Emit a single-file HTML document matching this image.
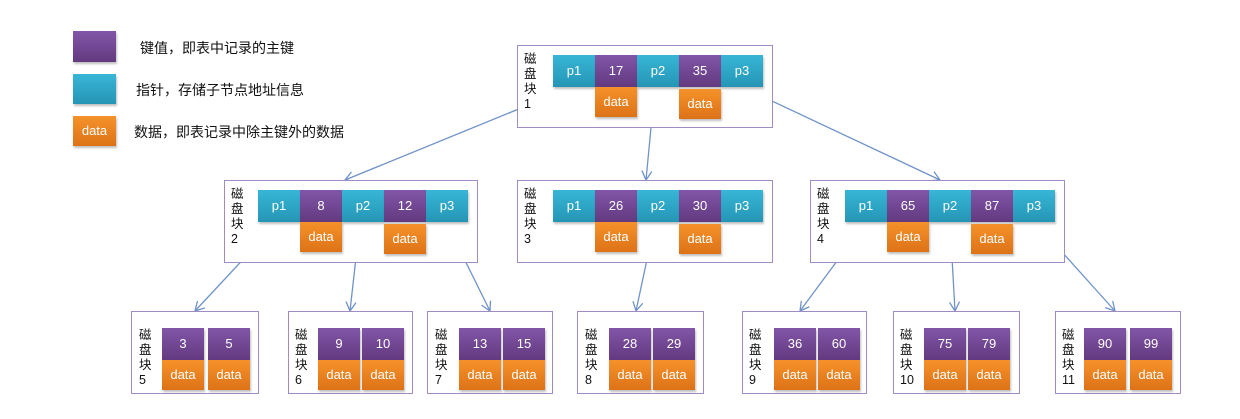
<!DOCTYPE html>
<html><head><meta charset="utf-8"><style>
body{margin:0;width:1240px;height:419px;background:#fff;position:relative;overflow:hidden;font-family:"Liberation Sans","Noto Sans CJK SC",sans-serif}
div{position:absolute;box-sizing:border-box}
.b{border:1.5px solid #a08cc4;background:#fff}
.c{width:42px;height:32px;color:#fff;font-size:13px;text-align:center;line-height:32px;box-shadow:1px 2px 2px rgba(0,0,0,.25)}
.t{background:linear-gradient(#38b6d6,#2595b5)}
.k{background:linear-gradient(#8156a8,#63397f)}
.d{background:linear-gradient(#f5922a,#dd7217);height:30px;line-height:30px}
.l{font-size:12.5px;line-height:15px;width:14px;color:#111;font-family:"Liberation Sans","Noto Sans CJK SC",sans-serif}
.g{font-size:14px;color:#111;font-family:"Liberation Sans","Noto Sans CJK SC",sans-serif}
</style></head><body>
<!-- legend -->
<div class="c k" style="left:73px;top:31px;width:43px;height:31px"></div>
<div class="c t" style="left:73px;top:74px;width:43px;height:30px"></div>
<div class="c d" style="left:73px;top:116px;width:43px;height:30px">data</div>
<div class="g" style="left:140px;top:38px">键值，即表中记录的主键</div>
<div class="g" style="left:136px;top:80px">指针，存储子节点地址信息</div>
<div class="g" style="left:134px;top:122px">数据，即表记录中除主键外的数据</div>

<svg width="1240" height="419" style="position:absolute;left:0;top:0">
<defs><marker id="a" markerWidth="12" markerHeight="12" refX="10" refY="6" orient="auto" markerUnits="userSpaceOnUse"><path d="M1,1 L10,6 L1,11" fill="none" stroke="#6f93c9" stroke-width="1.3"/></marker></defs>
<g stroke="#6f93c9" stroke-width="1.3" fill="none" marker-end="url(#a)">
<line x1="575" y1="86" x2="345" y2="180"/>
<line x1="655" y1="86" x2="646" y2="180"/>
<line x1="740" y1="86" x2="940" y2="180"/>
<line x1="278" y1="222" x2="195" y2="311"/>
<line x1="360" y1="222" x2="350" y2="311"/>
<line x1="446" y1="222" x2="490" y2="311"/>
<line x1="655" y1="222" x2="636" y2="311"/>
<line x1="866" y1="222" x2="800" y2="311"/>
<line x1="950" y1="222" x2="955" y2="311"/>
<line x1="1035" y1="222" x2="1115" y2="311"/>
</g></svg>

<!-- block 1 -->
<div class="b" style="left:517px;top:45px;width:256px;height:83px"></div>
<div class="l" style="left:524px;top:52px">磁盘块1</div>
<div class="c t" style="left:553px;top:55px">p1</div><div class="c k" style="left:595px;top:55px">17</div><div class="c t" style="left:637px;top:55px">p2</div><div class="c k" style="left:679px;top:55px">35</div><div class="c t" style="left:721px;top:55px">p3</div>
<div class="c d" style="left:595px;top:87px">data</div><div class="c d" style="left:679px;top:89px">data</div>

<!-- block 2 -->
<div class="b" style="left:224px;top:180px;width:254px;height:83px"></div>
<div class="l" style="left:231px;top:187px">磁盘块2</div>
<div class="c t" style="left:258px;top:190px">p1</div><div class="c k" style="left:300px;top:190px">8</div><div class="c t" style="left:342px;top:190px">p2</div><div class="c k" style="left:384px;top:190px">12</div><div class="c t" style="left:426px;top:190px">p3</div>
<div class="c d" style="left:300px;top:222px">data</div><div class="c d" style="left:384px;top:224px">data</div>

<!-- block 3 -->
<div class="b" style="left:517px;top:180px;width:256px;height:83px"></div>
<div class="l" style="left:524px;top:187px">磁盘块3</div>
<div class="c t" style="left:553px;top:190px">p1</div><div class="c k" style="left:595px;top:190px">26</div><div class="c t" style="left:637px;top:190px">p2</div><div class="c k" style="left:679px;top:190px">30</div><div class="c t" style="left:721px;top:190px">p3</div>
<div class="c d" style="left:595px;top:222px">data</div><div class="c d" style="left:679px;top:224px">data</div>

<!-- block 4 -->
<div class="b" style="left:810px;top:180px;width:255px;height:83px"></div>
<div class="l" style="left:817px;top:187px">磁盘块4</div>
<div class="c t" style="left:845px;top:190px">p1</div><div class="c k" style="left:887px;top:190px">65</div><div class="c t" style="left:929px;top:190px">p2</div><div class="c k" style="left:971px;top:190px">87</div><div class="c t" style="left:1013px;top:190px">p3</div>
<div class="c d" style="left:887px;top:222px">data</div><div class="c d" style="left:971px;top:224px">data</div>

<!-- leaves -->
<div class="b" style="left:131px;top:311px;width:128px;height:83px"></div>
<div class="l" style="left:139px;top:328px">磁盘块5</div>
<div class="c k" style="left:162px;top:328px">3</div><div class="c k" style="left:208px;top:328px">5</div>
<div class="c d" style="left:162px;top:360px">data</div><div class="c d" style="left:208px;top:360px">data</div>

<div class="b" style="left:288px;top:311px;width:125px;height:83px"></div>
<div class="l" style="left:295px;top:328px">磁盘块6</div>
<div class="c k" style="left:318px;top:328px">9</div><div class="c k" style="left:362px;top:328px">10</div>
<div class="c d" style="left:318px;top:360px">data</div><div class="c d" style="left:362px;top:360px">data</div>

<div class="b" style="left:427px;top:311px;width:126px;height:83px"></div>
<div class="l" style="left:435px;top:328px">磁盘块7</div>
<div class="c k" style="left:459px;top:328px">13</div><div class="c k" style="left:503px;top:328px">15</div>
<div class="c d" style="left:459px;top:360px">data</div><div class="c d" style="left:503px;top:360px">data</div>

<div class="b" style="left:577px;top:311px;width:127px;height:83px"></div>
<div class="l" style="left:585px;top:328px">磁盘块8</div>
<div class="c k" style="left:609px;top:328px">28</div><div class="c k" style="left:653px;top:328px">29</div>
<div class="c d" style="left:609px;top:360px">data</div><div class="c d" style="left:653px;top:360px">data</div>

<div class="b" style="left:742px;top:311px;width:125px;height:83px"></div>
<div class="l" style="left:749px;top:328px">磁盘块9</div>
<div class="c k" style="left:774px;top:328px">36</div><div class="c k" style="left:818px;top:328px">60</div>
<div class="c d" style="left:774px;top:360px">data</div><div class="c d" style="left:818px;top:360px">data</div>

<div class="b" style="left:893px;top:311px;width:127px;height:83px"></div>
<div class="l" style="left:900px;top:328px">磁盘块10</div>
<div class="c k" style="left:924px;top:328px">75</div><div class="c k" style="left:968px;top:328px">79</div>
<div class="c d" style="left:924px;top:360px">data</div><div class="c d" style="left:968px;top:360px">data</div>

<div class="b" style="left:1055px;top:311px;width:126px;height:83px"></div>
<div class="l" style="left:1062px;top:328px">磁盘块11</div>
<div class="c k" style="left:1084px;top:328px">90</div><div class="c k" style="left:1130px;top:328px">99</div>
<div class="c d" style="left:1084px;top:360px">data</div><div class="c d" style="left:1130px;top:360px">data</div>
</body></html>
